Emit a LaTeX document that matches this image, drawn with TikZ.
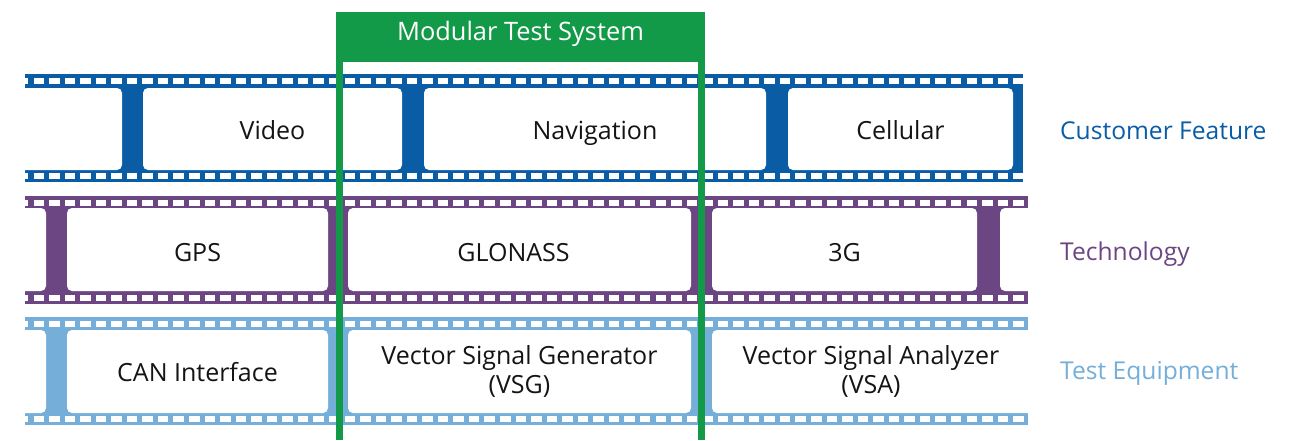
\documentclass[tikz,border=0pt]{standalone}
\usepackage{fontspec}
\setmainfont{Open Sans}
\definecolor{cfblue}{RGB}{10,92,165}
\definecolor{techpurple}{RGB}{108,70,131}
\definecolor{eqblue}{RGB}{116,174,217}
\definecolor{mtsgreen}{RGB}{19,154,72}
\definecolor{labelblack}{RGB}{20,20,20}
\tikzset{
  framebox/.style={rectangle, fill=white, rounded corners=5pt, inner sep=0pt,
    align=center, text=labelblack, font=\fontsize{25}{29}\selectfont},
  rowlabel/.style={anchor=west, inner sep=0pt, font=\fontsize{24.6}{28}\selectfont},
}
\newcommand{\lbl}[2]{\raisebox{0pt}[#1][0pt]{#2}}
\newcommand{\filmstrip}[4]{% color, left, right, top
  \begin{scope}
    \clip (#2,#4) rectangle (#3,#4+108);
    \fill[#1] (#2,#4) rectangle (#3,#4+108);
    \foreach \k in {-1,...,66}{
      \fill[white] ({33.5+15.55*\k},#4+3.5) rectangle ++(10.5,6.5);
      \fill[white] ({33.5+15.55*\k},#4+98.5) rectangle ++(10.5,6.5);
    }
  \end{scope}
}
\begin{document}
\begin{tikzpicture}[x=1pt,y=-1pt]
\useasboundingbox (0,0) rectangle (1291,440);
% Customer Feature strip
\filmstrip{cfblue}{25}{1023}{74}
\node[framebox, minimum width=112pt, minimum height=82pt] (cf0) at (66,129) {};
\node[framebox, minimum width=259pt, minimum height=82pt] (video) at (272.5,129) {\lbl{20pt}{Video}};
\node[framebox, minimum width=342pt, minimum height=82pt] (nav) at (595,129) {\lbl{20pt}{Navigation}};
\node[framebox, minimum width=225pt, minimum height=82pt] (cell) at (900.5,129) {\lbl{20pt}{Cellular}};
% Technology strip
\filmstrip{techpurple}{25}{1028}{196}
\node[framebox, minimum width=36pt, minimum height=83pt] (t0) at (28,249.5) {};
\node[framebox, minimum width=261pt, minimum height=83pt] (gps) at (197.5,249.5) {\lbl{23pt}{GPS}};
\node[framebox, minimum width=343pt, minimum height=83pt] (glonass) at (519.5,249.5) {\lbl{23pt}{GLONASS\hspace{12pt}}};
\node[framebox, minimum width=265pt, minimum height=83pt] (g3) at (844.5,249.5) {\lbl{23pt}{3G}};
\node[framebox, minimum width=50pt, minimum height=83pt] (t4) at (1025,249.5) {};
% Test Equipment strip
\filmstrip{eqblue}{25}{1028}{317}
\node[framebox, minimum width=36pt, minimum height=83pt] (e0) at (28,371.5) {};
\node[framebox, minimum width=261pt, minimum height=83pt] (can) at (197.5,371.5) {\lbl{19pt}{CAN Interface}};
\node[framebox, minimum width=343pt, minimum height=83pt] (vsg) at (519.5,371.5) {Vector Signal Generator\\(VSG)};
\node[framebox, minimum width=330pt, minimum height=83pt] (vsa) at (877,371.5) {};
\node[align=center, text=labelblack, font=\fontsize{25}{29}\selectfont, inner sep=0pt] (vsatext) at (871,371.5) {Vector Signal Analyzer\\(VSA)};
% Row labels
\node[rowlabel, text=cfblue] (lcf) at (1060,131) {Customer Feature};
\node[rowlabel, text=techpurple] (ltech) at (1060,254) {Technology};
\node[rowlabel, text=eqblue] (leq) at (1060,373) {Test Equipment};
% Modular Test System
\fill[mtsgreen] (336,12) rectangle (705,62);
\fill[mtsgreen] (336,62) rectangle (343,440);
\fill[mtsgreen] (698,62) rectangle (705,440);
\node[text=white, font=\fontsize{25.4}{29}\selectfont, inner sep=0pt] (mts) at (520.5,34) {Modular Test System};
\end{tikzpicture}
\end{document}
